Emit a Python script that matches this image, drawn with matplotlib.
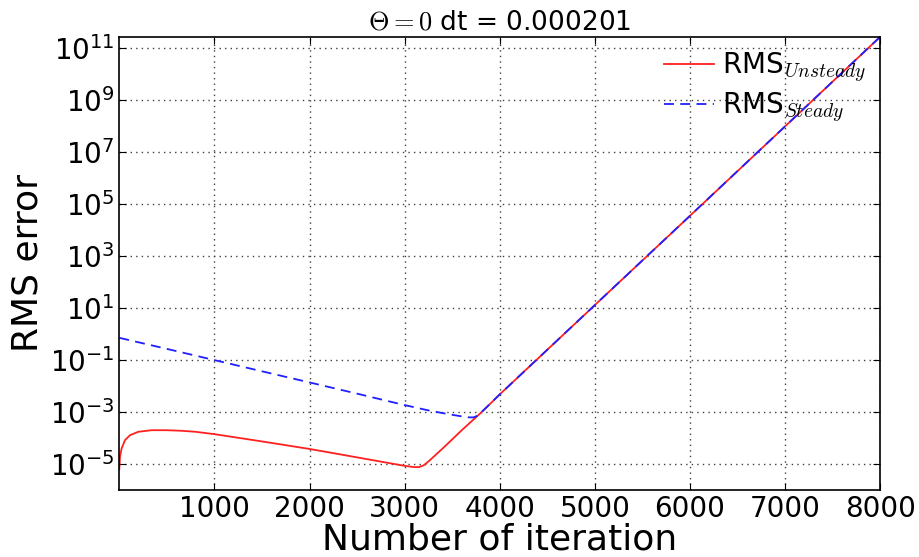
"""
Convergence of RMS error vs iteration count (Theta = 0, dt = 0.000201).
"""
import matplotlib
matplotlib.use("Agg")
import matplotlib.pyplot as plt

# ---------------------------------------------------------------------------
# Data
# ---------------------------------------------------------------------------

iter_unsteady = [0, 8, 25, 60, 113, 200, 340, 500, 656, 800, 1000, 1500, 2000,
                 2500, 3000, 3100, 3150, 3200, 3265, 3400, 3512, 3600, 3810,
                 4000, 5000, 6000, 7000, 8000]
rms_unsteady = [6.3e-6, 2.0e-5, 4.0e-5, 8.3e-5, 1.29e-4, 1.74e-4, 2.0e-4,
                2.0e-4, 1.9e-4, 1.74e-4, 1.41e-4, 7.4e-5, 3.8e-5, 1.8e-5,
                8.5e-6, 7.6e-6, 7.6e-6, 8.9e-6, 1.4e-5, 4.0e-5, 9.8e-5,
                2.0e-4, 1.0e-3, 4.8e-3, 13.2, 3.6e4, 1.0e8, 2.8e11]

iter_steady = [0, 500, 1000, 1500, 2000, 2500, 2987, 3267, 3477, 3653, 3720,
               3775, 3811, 4000, 5000, 6000, 7000, 8000]
rms_steady = [0.72, 0.27, 0.1, 0.037, 0.0138, 5.1e-3, 1.9e-3, 1.12e-3, 8.1e-4,
              6.3e-4, 6.2e-4, 7.4e-4, 1.02e-3, 4.8e-3, 13.2, 3.6e4, 1.0e8,
              2.8e11]

x_ticks = [1000, 2000, 3000, 4000, 5000, 6000, 7000, 8000]
y_ticks = [1e-5, 1e-3, 1e-1, 1e1, 1e3, 1e5, 1e7, 1e9, 1e11]

# ---------------------------------------------------------------------------
# Style
# ---------------------------------------------------------------------------

plt.rcParams.update({
    "font.family": "DejaVu Sans",
    "mathtext.fontset": "cm",
    "xtick.direction": "in",
    "ytick.direction": "in",
    "xtick.top": True,
    "ytick.right": True,
    "xtick.major.size": 5,
    "ytick.major.size": 5,
    "axes.linewidth": 1.2,
})

fig = plt.figure(figsize=(9.19, 5.57), dpi=100)
ax = fig.add_axes([0.1298, 0.1203, 0.8281, 0.8138])

ax.plot(iter_unsteady, rms_unsteady, color="#ff2020", linestyle="-",
        linewidth=1.3, label=r"RMS$_{Unsteady}$")
ax.plot(iter_steady, rms_steady, color="#2020ff", linestyle="--",
        linewidth=1.3, dashes=(5.5, 3.5), label=r"RMS$_{Steady}$")

ax.set_yscale("log")
ax.set_xlim(0, 8000)
ax.set_ylim(1e-6, 2.8e11)
ax.set_xticks(x_ticks)
ax.set_yticks(y_ticks)
ax.minorticks_off()
ax.tick_params(labelsize=20)

ax.grid(True, color="0.25", linestyle=(0, (1, 3)), linewidth=1.0)

ax.set_xlabel("Number of iteration", fontsize=26, labelpad=0)
ax.set_ylabel("RMS error", fontsize=26)
ax.set_title(r"$\Theta=0$ dt = 0.000201", fontsize=19, pad=5)

ax.legend(loc="upper right", fontsize=20, frameon=False,
          borderaxespad=0.1, handlelength=1.8, handletextpad=0.3,
          labelspacing=0.2)

fig.savefig("out.png", dpi=100)
